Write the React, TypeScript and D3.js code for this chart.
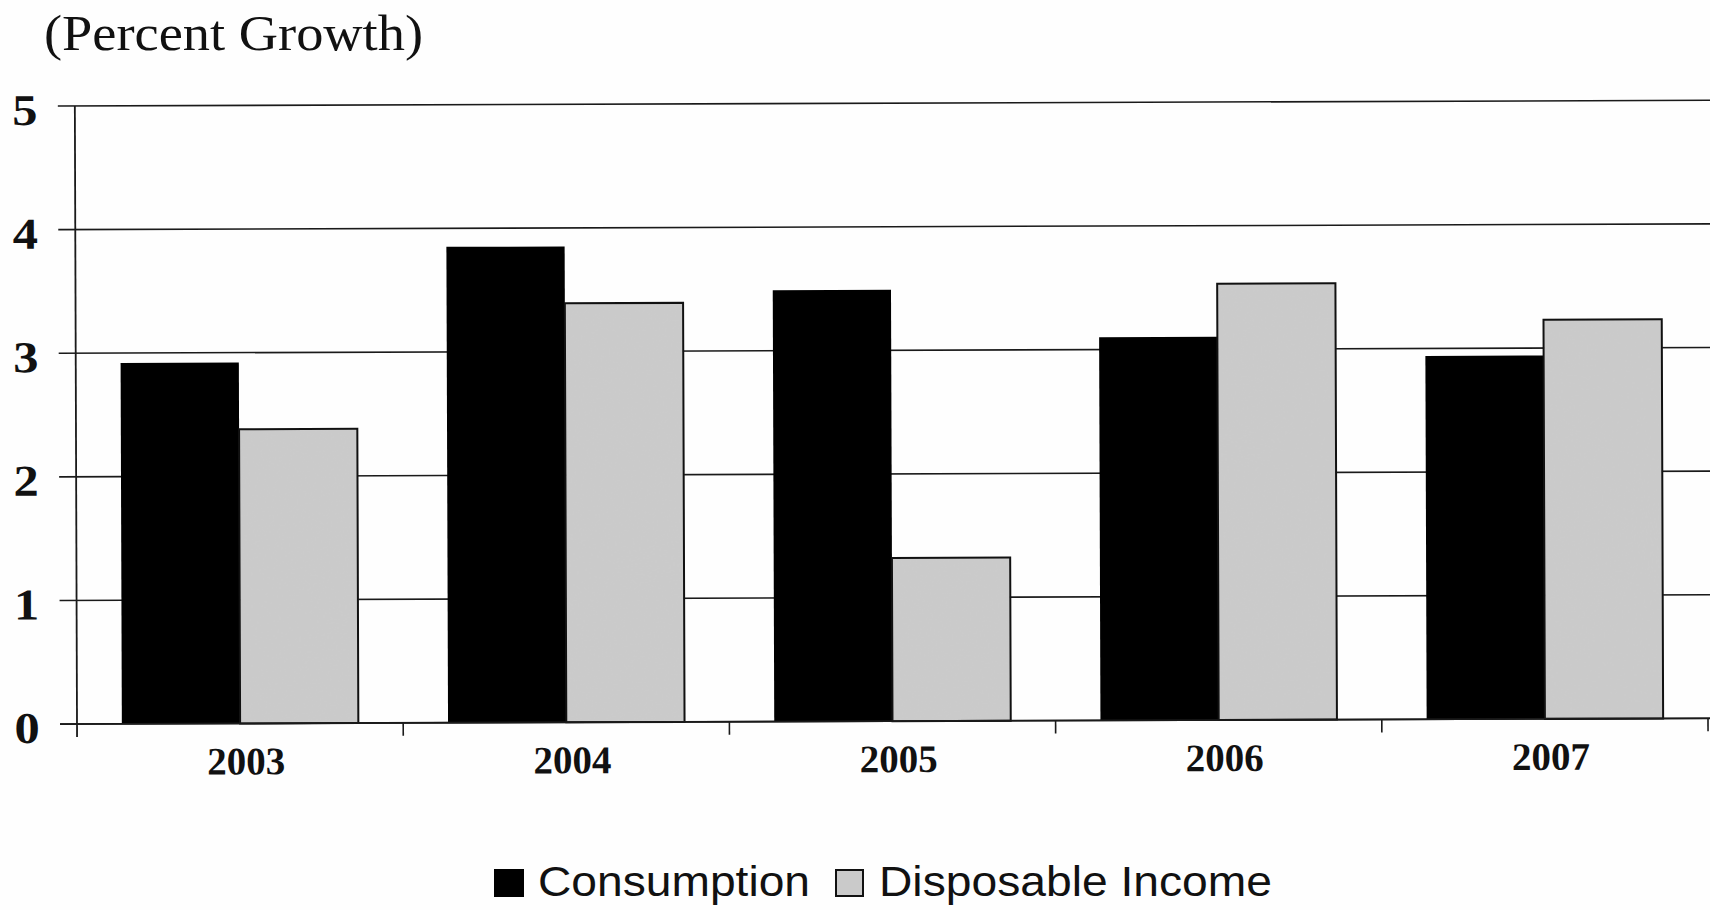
import React from "react";
import * as d3 from "d3";

// Annual growth rates, in percent
const years = ["2003", "2004", "2005", "2006", "2007"];
const consumption = [2.92, 3.85, 3.49, 3.1, 2.94];
const disposableIncome = [2.38, 3.39, 1.32, 3.53, 3.23];
const seriesNames = ["Consumption", "Disposable Income"];
const yTicks = [0, 1, 2, 3, 4, 5];
const titleText = "(Percent Growth)";

const W = 1710;
const H = 910;
const left = 77;
const right = 1708;
const top = 106;
const bottom = 724;

const serif = "'Liberation Serif', 'Times New Roman', serif";
const sans = "'Liberation Sans', Arial, sans-serif";
const barColors = ["#000000", "#cacaca"];

export default function App() {
  const x0 = d3.scaleBand<string>().domain(years).range([left, right]);
  const groupW = x0.bandwidth() * 0.725;
  const x1 = d3.scaleBand<string>().domain(seriesNames).range([0, groupW]);
  const y = d3.scaleLinear().domain([0, 5]).range([bottom, top]);
  const values = [consumption, disposableIncome];

  const boundaries = years.map((yr) => x0(yr) as number).concat([right]);

  return (
    <svg
      width={W}
      height={H}
      style={{ position: "absolute", left: 0, top: 0, background: "#fff" }}
    >
      <defs>
        {/* fine grain inside the light bars */}
        <filter id="speckle" x="0" y="0" width="1" height="1">
          <feTurbulence type="fractalNoise" baseFrequency="0.5" numOctaves="2" seed="5" result="noise" />
          <feColorMatrix
            in="noise"
            type="matrix"
            values="0 0 0 0 0.6  0 0 0 0 0.6  0 0 0 0 0.6  1.8 0 0 0 -0.8"
            result="dots"
          />
          <feComposite in="dots" in2="SourceGraphic" operator="in" result="clipped" />
          <feMerge>
            <feMergeNode in="SourceGraphic" />
            <feMergeNode in="clipped" />
          </feMerge>
        </filter>
      </defs>
      <rect width={W} height={H} fill="#fefefe" />
      <text
        x={44}
        y={50}
        fontFamily={serif}
        fontSize={50}
        fill="#111"
        textLength={379}
        lengthAdjust="spacingAndGlyphs"
      >
        {titleText}
      </text>
      <g transform={`rotate(-0.2, ${left}, ${bottom})`}>
        {/* horizontal gridlines with tick stubs left of the axis */}
        {yTicks.map((t) => (
          <line
            key={"g" + t}
            x1={60}
            x2={W + 10}
            y1={y(t)}
            y2={y(t)}
            stroke="#1a1a1a"
            strokeWidth={1.6}
          />
        ))}
        {yTicks.map((t) => (
          <text
            key={"yl" + t}
            transform={`translate(27, ${y(t) + 4}) scale(1.15, 1)`}
            textAnchor="middle"
            dominantBaseline="central"
            fontFamily={serif}
            fontWeight="bold"
            fontSize={44}
            fill="#111"
          >
            {t}
          </text>
        ))}
        {/* bars */}
        {years.map((yr, i) => (
          <g key={yr} transform={`translate(${(x0(yr) as number) + (x0.bandwidth() - groupW) / 2},0)`}>
            {seriesNames.map((s, k) => {
              const bx = x1(s) as number;
              const by = y(values[k][i]);
              const bh = y(0) - by;
              return (
                <g key={s}>
                  <rect
                    x={bx}
                    y={by}
                    width={x1.bandwidth()}
                    height={bh}
                    fill={barColors[k]}
                    filter={k === 1 ? "url(#speckle)" : undefined}
                  />
                  {k === 1 && (
                    <rect x={bx} y={by} width={x1.bandwidth()} height={bh} fill="none" stroke="#111" strokeWidth={2} />
                  )}
                </g>
              );
            })}
          </g>
        ))}
        {/* axes */}
        <line x1={left} x2={left} y1={top} y2={bottom + 13} stroke="#1a1a1a" strokeWidth={1.8} />
        <line x1={60} x2={W + 10} y1={bottom} y2={bottom} stroke="#1a1a1a" strokeWidth={1.8} />
        {boundaries.slice(1).map((bx, i) => (
          <line key={"t" + i} x1={bx} x2={bx} y1={bottom} y2={bottom + 13} stroke="#1a1a1a" strokeWidth={1.6} />
        ))}
        {years.map((yr) => {
          const cx = (x0(yr) as number) + x0.bandwidth() / 2 + 6;
          return (
            <text
              key={"xl" + yr}
              x={cx}
              y={775}
              textAnchor="middle"
              fontFamily={serif}
              fontWeight="bold"
              fontSize={39}
              fill="#111"
            >
              {yr}
            </text>
          );
        })}
      </g>
      {/* legend */}
      <g>
        <rect x={494} y={869} width={30} height={28} fill={barColors[0]} />
        <text
          x={538}
          y={896}
          fontFamily={sans}
          fontSize={43}
          fill="#111"
          textLength={272}
          lengthAdjust="spacingAndGlyphs"
        >
          {seriesNames[0]}
        </text>
        <rect x={836} y={870} width={27} height={26} fill={barColors[1]} stroke="#111" strokeWidth={2} />
        <text
          x={879}
          y={896}
          fontFamily={sans}
          fontSize={43}
          fill="#111"
          textLength={393}
          lengthAdjust="spacingAndGlyphs"
        >
          {seriesNames[1]}
        </text>
      </g>
    </svg>
  );
}
